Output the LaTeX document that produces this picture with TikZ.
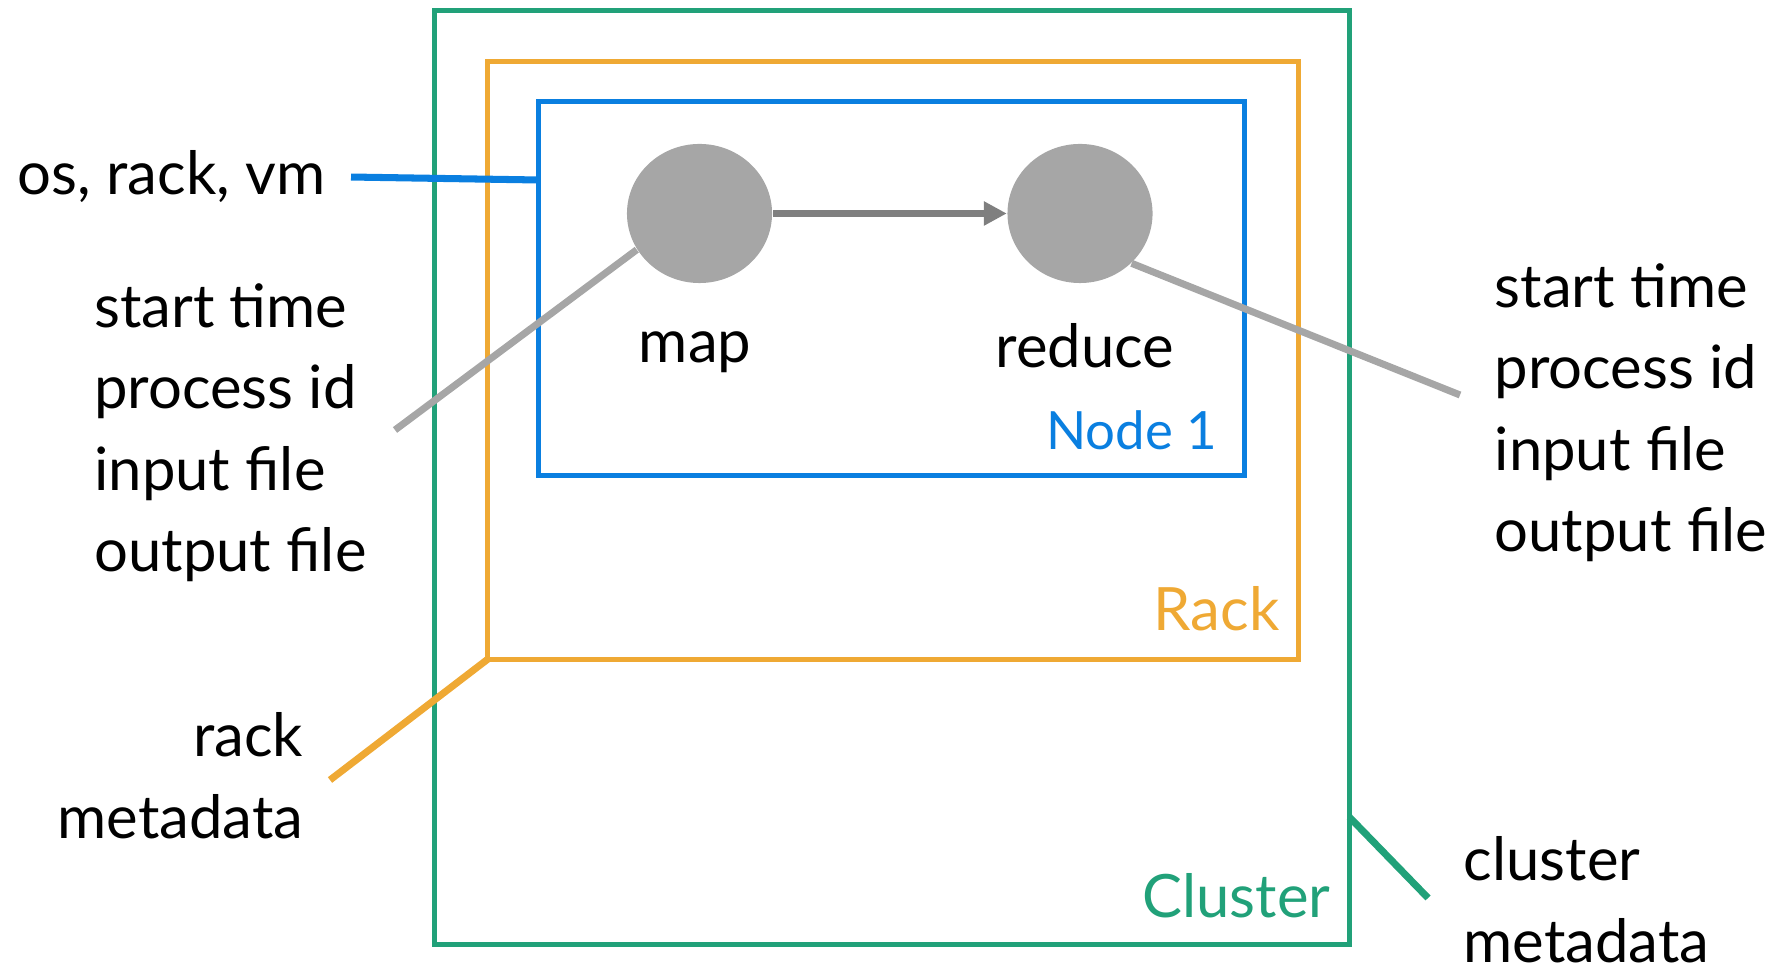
\documentclass[tikz,border=0pt]{standalone}
\usepackage{fontspec}
\setmainfont{Lato}
\usetikzlibrary{shapes.geometric, arrows.meta, positioning}

\definecolor{clustergreen}{RGB}{33,161,121}
\definecolor{rackorange}{RGB}{239,169,52}
\definecolor{nodeblue}{RGB}{10,127,224}
\definecolor{taskgray}{RGB}{166,166,166}
\definecolor{flowgray}{RGB}{127,127,127}

\begin{document}
\begin{tikzpicture}[x=0.01cm, y=-0.01cm, >={Triangle[length=6.5pt,width=6.5pt]},
    box/.style={draw, line width=1.4pt, inner sep=0pt, outer sep=0pt},
    task/.style={ellipse, fill=taskgray, inner sep=0pt, minimum width=1.45cm, minimum height=1.39cm},
    lbl/.style={font=\fontsize{17}{23.2}\selectfont, inner sep=0pt},
    tag/.style={line width=2pt}]
    \useasboundingbox (0,0) rectangle (1792,968);

    % nested boxes
    \node[box, draw=clustergreen, minimum width=9.144cm, minimum height=9.33cm] (Cluster) at (891.8,477.5) {};
    \node[box, draw=rackorange, minimum width=8.1cm, minimum height=5.97cm]     (Rack)    at (893,360.5) {};
    \node[box, draw=nodeblue, minimum width=7.055cm, minimum height=3.73cm]     (NodeOne) at (891.2,288.5) {};

    \node[lbl, text=nodeblue, font=\fontsize{15}{18}\selectfont, anchor=base east] (NodeTag)    at (1218,450) {Node 1};
    \node[lbl, text=rackorange, anchor=base east]                                   (RackTag)    at (1280,631) {Rack};
    \node[lbl, text=clustergreen, anchor=base east]                                 (ClusterTag) at (1331,917) {Cluster};

    % tasks
    \node[task] (Map)    at (699.5,213.5) {};
    \node[task] (Reduce) at (1080,213.5)  {};
    \node[lbl, anchor=base] (MapName)    at (695,363)  {map};
    \node[lbl, anchor=base] (ReduceName) at (1085,368) {reduce};
    \draw[->, line width=1.9pt, flowgray] (Map) -- (Reduce);

    % metadata labels (base = last line)
    \node[lbl, anchor=base east] (OsInfo) at (326,195) {os, rack, vm};
    \node[lbl, align=left, anchor=base west]  (MapInfo)     at (93.6,572) {start time\\process id\\input file\\output file};
    \node[lbl, align=left, anchor=base west]  (ReduceInfo)  at (1494,552) {start time\\process id\\input file\\output file};
    \node[lbl, align=right, anchor=base east] (RackInfo)    at (304,838)  {rack\\metadata};
    \node[lbl, align=left, anchor=base west]  (ClusterInfo) at (1463,962) {cluster\\metadata};

    \coordinate (OsEnd)       at (NodeOne.west |- 0,180);
    \coordinate (MapEnd)      at (395,430);
    \coordinate (ReduceEnd)   at (1460,395);
    \coordinate (RackEnd)     at (330,780);
    \coordinate (ClusterTap)  at (Cluster.east |- 0,817);
    \coordinate (ClusterEnd)  at (1428,898);

    \draw[tag, nodeblue] ([xshift=2.5mm]OsInfo.east) -- (OsEnd);
    \draw[tag, taskgray] (Map.210) -- (MapEnd);
    \draw[tag, taskgray] (Reduce.-44) -- (ReduceEnd);
    \draw[tag, rackorange] (Rack.south west) -- (RackEnd);
    \draw[tag, clustergreen] (ClusterTap) -- (ClusterEnd);
\end{tikzpicture}
\end{document}
